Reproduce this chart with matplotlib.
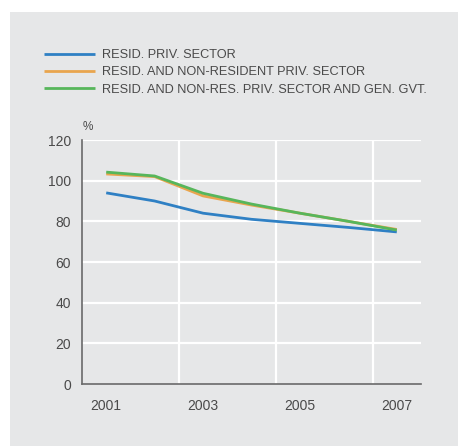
import matplotlib
matplotlib.use("Agg")
import matplotlib.pyplot as plt
from matplotlib.patches import Rectangle

years = [2001, 2002, 2003, 2004, 2005, 2006, 2007]
resid_priv = [94.0, 90.0, 84.0, 81.0, 79.0, 77.0, 74.8]
resid_nonres_priv = [103.3, 102.0, 92.5, 88.0, 84.0, 80.0, 76.0]
resid_nonres_priv_gov = [104.2, 102.3, 93.8, 88.5, 84.0, 80.0, 75.7]
series_labels = ["RESID. PRIV. SECTOR",
                 "RESID. AND NON-RESIDENT PRIV. SECTOR",
                 "RESID. AND NON-RES. PRIV. SECTOR AND GEN. GVT."]
yticks = [0, 20, 40, 60, 80, 100, 120]
xtick_labels = [2001, 2003, 2005, 2007]
vgrid = [2002.5, 2004.5, 2006.5]

plt.rcParams['font.family'] = ['Liberation Sans', 'DejaVu Sans']
W, H = 459, 446
fig = plt.figure(figsize=(W / 100, H / 100), dpi=100)
fig.patch.set_facecolor('white')
bg = '#e6e7e8'
panel = Rectangle((10 / W, 0), (448) / W, (H - 12) / H,
                  transform=fig.transFigure, facecolor=bg,
                  edgecolor='none', zorder=-10)
fig.add_artist(panel)

ax = fig.add_axes([82 / W, (H - 384) / H, (421 - 82) / W, (384 - 140) / H])
ax.set_zorder(5)
ax.set_facecolor(bg)
ax.set_xlim(2000.5, 2007.5)
ax.set_ylim(0, 120)

for yv in yticks[1:]:
    ax.axhline(yv, color='white', lw=1.6, zorder=1)
for xv in vgrid:
    ax.axvline(xv, color='white', lw=1.6, zorder=1)

colors = ['#2f80c4', '#e9a54e', '#57b65b']
data = [resid_priv, resid_nonres_priv, resid_nonres_priv_gov]
for vals, c, lab in zip(data, colors, series_labels):
    ax.plot(years, vals, color=c, lw=2.0, label=lab, zorder=3,
            solid_capstyle='butt')

ax.set_yticks(yticks)
ax.set_xticks(xtick_labels)
ax.tick_params(length=0, labelsize=10, labelcolor='#4a4a4a')
ax.tick_params(axis='y', pad=8)
ax.tick_params(axis='x', pad=11)
for s in ['top', 'right']:
    ax.spines[s].set_visible(False)
for s in ['left', 'bottom']:
    ax.spines[s].set_color('#6a6a6a')
    ax.spines[s].set_linewidth(1.2)
    ax.spines[s].set_zorder(4)

fig.text(83 / W, 1 - 127 / H, '%', fontsize=8.5, color='#4a4a4a',
         ha='left', va='center')

leg = fig.legend(loc='upper left', bbox_to_anchor=(39 / W, 1 - 44 / H),
                 frameon=False, fontsize=9.2, handlelength=4.0,
                 handletextpad=0.5, labelspacing=0.42, borderaxespad=0)
for t in leg.get_texts():
    t.set_color('#4a4a4a')
for l in leg.get_lines():
    l.set_linewidth(2.0)

fig.savefig('out.png', dpi=100, facecolor='white')
